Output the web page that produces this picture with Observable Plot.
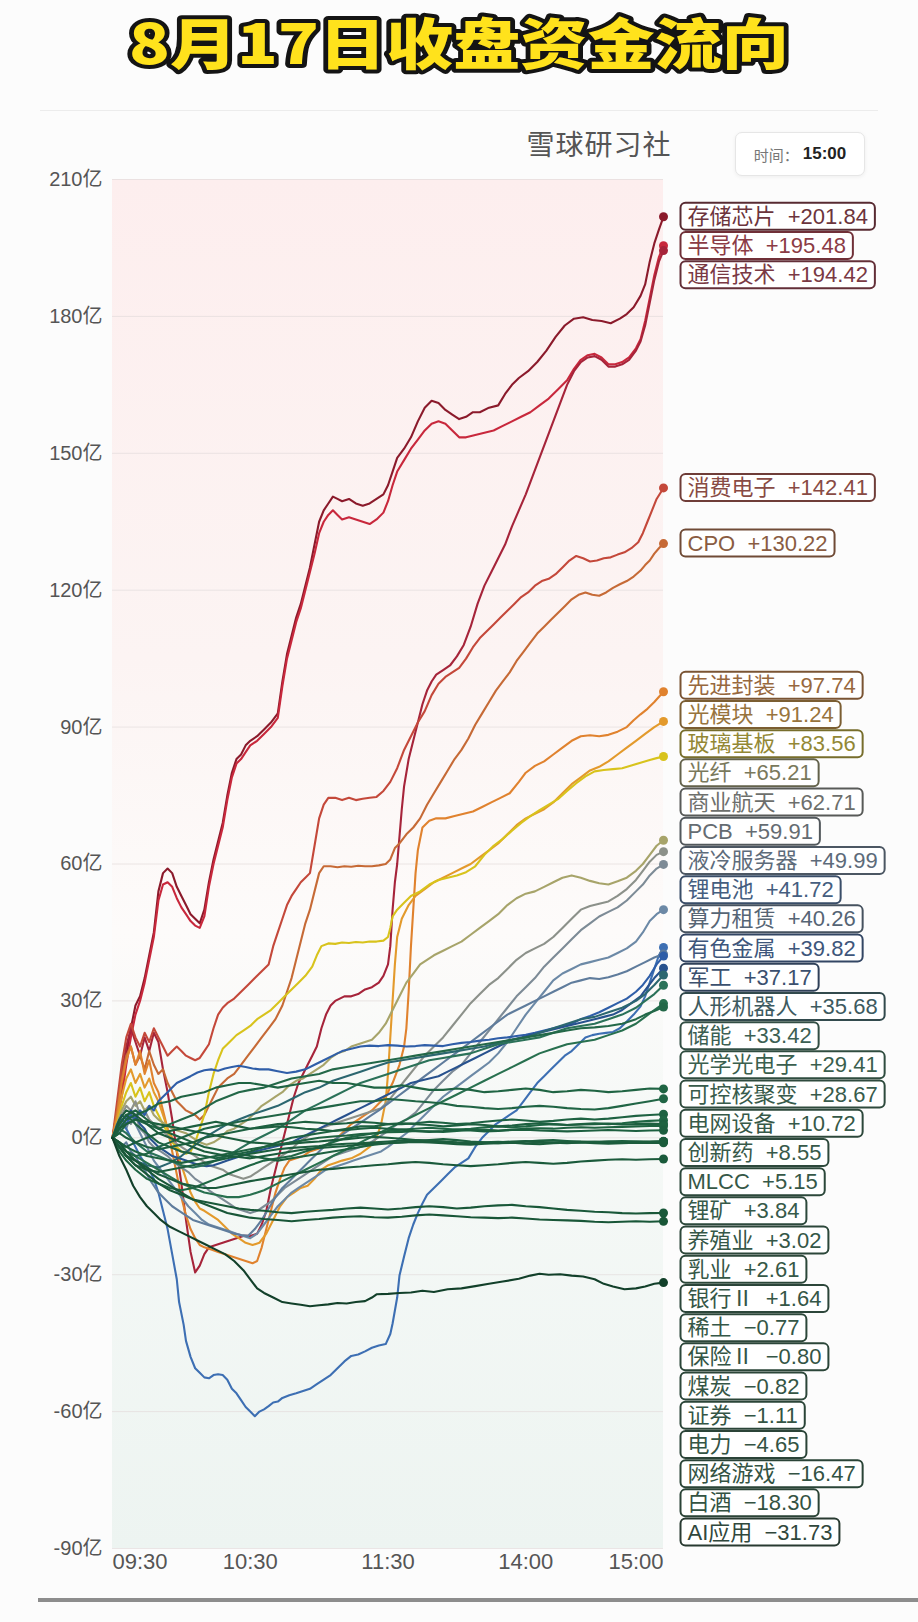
<!DOCTYPE html>
<html>
<head>
<meta charset="utf-8">
<script src="https://cdn.jsdelivr.net/npm/d3@7"></script>
<script src="https://cdn.jsdelivr.net/npm/@observablehq/plot@0.6"></script>
<style>
  html,body{margin:0;padding:0;}
  body{width:918px;height:1622px;position:relative;overflow:hidden;background:#fcfcfc;font-family:'Liberation Sans','Noto Sans CJK SC',sans-serif;}
  #title{position:absolute;left:0;top:0;}
  #sep{position:absolute;left:40px;top:110px;width:838px;height:1px;background:#ececec;}
  #brand{position:absolute;left:0;width:918px;top:123px;text-align:center;padding-left:280px;box-sizing:border-box;font:28px 'Noto Sans CJK SC',sans-serif;color:#555;letter-spacing:1px;}
  #timebox{position:absolute;left:735px;top:132px;width:128px;height:42px;border:1px solid #e6e6e6;border-radius:7px;background:#fff;box-shadow:0 1px 4px rgba(0,0,0,0.06);display:flex;align-items:center;justify-content:center;gap:4px;}
  #timebox .k{font:15px 'Noto Sans CJK SC',sans-serif;color:#777;}
  #timebox .v{font:bold 17px 'Liberation Sans',sans-serif;color:#222;}
  #chart{position:absolute;left:0;top:150px;}
  #bar{position:absolute;left:38px;top:1598px;width:880px;height:4px;background:#8d8d8d;}
</style>
</head>
<body>
<svg id="title" width="918" height="90">
  <text x="459" y="64" text-anchor="middle" textLength="660" lengthAdjust="spacingAndGlyphs"
        font-family="'Noto Sans CJK SC',sans-serif" font-size="55" font-weight="900"
        fill="#ffe21c" stroke="#141414" stroke-width="8" stroke-linejoin="round" paint-order="stroke">8月17日收盘资金流向</text>
</svg>
<div id="sep"></div>
<div id="brand">雪球研习社</div>
<div id="timebox"><span class="k">时间：</span><span class="v">15:00</span></div>
<div id="chart"></div>
<div id="bar"></div>
<script>
// ---------- data ----------
const names = ["存储芯片","半导体","通信技术","消费电子","CPO","先进封装","光模块","玻璃基板","光纤","商业航天","PCB","液冷服务器","锂电池","算力租赁","有色金属","军工","人形机器人","储能","光学光电子","可控核聚变","电网设备","创新药","MLCC","锂矿","养殖业","乳业","银行Ⅱ","稀土","保险Ⅱ","煤炭","证券","电力","网络游戏","白酒","AI应用"];
const finals = [201.84,195.48,194.42,142.41,130.22,97.74,91.24,83.56,65.21,62.71,59.91,49.99,41.72,40.26,39.82,37.17,35.68,33.42,29.41,28.67,10.72,8.55,5.15,3.84,3.02,2.61,1.64,-0.77,-0.80,-0.82,-1.11,-4.65,-16.47,-18.30,-31.73];
const colors = ["#8b1a2b","#c8283c","#a6243a","#c4483a","#c66a36","#e0822e","#e39a2c","#d8c31c","#a7a46a","#8c918a","#7d8b96","#6c89a6","#3d6fb3","#5f7c9c","#2f5ea8","#28528e","#2c6770","#2b7259","#28704f","#236848","#1f6443","#206545","#1e6242","#1f6644","#1d6040","#1e6341","#1c5f3f","#1d6140","#1b5d3d","#1c5e3e","#1b5c3c","#1a5a3b","#195839","#185637","#12402a"];
const tickMins = [0,60,120,180,240];
const tickLabels = ["09:30","10:30","11:30","14:00","15:00"];
const yTicks = [-90,-60,-30,0,30,60,90,120,150,180,210];

// series paths: [trading minute since 09:30, net inflow (亿)]
const s01 = [[0,0],[2,5],[4,10],[6,18],[8,24],[10,29],[12,31],[14,35],[16,40],[18,45],[20,54],[22,58],[24,59],[26,58],[28,55],[30,53],[32,51],[34,49],[36,48],[38,47],[40,50],[42,56],[44,61],[46,65],[48,69],[50,75],[52,80],[54,83],[56,84],[58,86],[60,87],[63,88],[66,89.5],[69,91],[72,93],[74,100],[76,106],[78,110],[80,114],[82,117],[84,121],[86,125],[88,130],[90,135],[92,137.5],[94,139],[96,140.5],[98,140],[100,139.5],[103,140],[106,139],[109,138.5],[112,139],[115,140],[118,141],[120,143],[122,146],[124,149],[127,151],[130,153.5],[133,157],[136,160],[139,161.5],[142,161],[145,159.5],[148,158.5],[151,157.5],[154,158],[157,159],[160,159],[164,160],[168,160.5],[171,163],[174,165],[177,166.5],[181,168],[185,170],[189,172.5],[193,175.5],[197,178],[201,179.5],[205,179.8],[209,179.2],[213,179],[217,178.5],[221,179.5],[224,180.5],[227,182],[230,184.5],[232,187],[234,192],[236,196],[238,199],[240,201.84]];
const s02 = [[0,0],[2,4],[4,9],[6,16],[8,22],[10,27],[12,30],[14,34],[16,39],[18,44],[20,52],[22,55.5],[24,56],[26,55],[28,52.5],[30,50.5],[32,49],[34,47.5],[36,46.5],[38,46],[40,48.5],[42,55],[44,60],[46,64],[48,68],[50,74],[52,79],[54,82],[56,83],[58,84.5],[60,86],[63,87],[66,88.5],[69,90],[72,92],[74,99],[76,105],[78,109],[80,113],[82,116],[84,120],[86,124],[88,128],[90,132.5],[92,135],[94,136.5],[96,137.5],[98,136.5],[100,135.5],[103,136],[106,135.5],[109,135],[112,134.5],[115,135.5],[118,137],[120,139.5],[122,143],[124,146],[127,148.5],[130,151],[133,153],[136,155],[139,156.5],[142,157],[145,156.5],[148,155],[151,153.5],[154,153.5],[158,154],[162,154.5],[166,155],[170,156],[174,157],[178,158],[182,159],[186,160.5],[190,162],[194,164],[198,166],[201,168.5],[204,170.5],[207,171.5],[210,171.8],[213,171],[216,169.5],[219,169.5],[222,170],[225,171],[228,173],[230,175],[232,179],[234,184],[236,189],[238,193],[240,195.48]];
const s03 = [[0,0],[2,6],[4,14],[6,20],[8,24],[10,21],[12,18],[14,22],[16,19],[18,23],[20,21],[22,15],[24,10],[26,4],[28,-3],[30,-10],[32,-18],[34,-25],[36,-29.5],[38,-28],[40,-25.5],[42,-24],[45,-23.5],[48,-23],[51,-22.5],[54,-22],[57,-21.5],[60,-21.5],[63,-21],[65,-19],[67,-16],[69,-11],[71,-7],[73,-3],[75,1],[77,5],[79,9],[81,12],[83,14],[85,16],[87,18],[89,20],[91,24],[93,27],[95,29],[97,30],[99,30.5],[101,31],[104,31],[107,31.5],[110,32.5],[113,33],[116,34],[118,35.5],[120,38],[121,42],[122,50],[123,56],[124,60],[125,66],[126,72],[127,77],[129,83],[131,87],[133,91],[135,95],[137,98],[139,100],[141,101.5],[144,102.5],[147,103.5],[150,105.5],[153,108],[156,112],[159,117],[162,121],[165,124],[168,127],[171,130],[174,134],[177,137.5],[180,141],[183,145],[186,149],[189,153],[192,157],[195,161],[198,165],[201,168],[204,170],[207,171],[210,171.3],[213,170.5],[216,169],[219,169],[222,169.5],[225,170.5],[228,172.5],[230,174.5],[232,178],[234,183],[236,188],[238,192],[240,194.42]];
const s04 = [[0,0],[2,8],[4,16],[6,22],[8,25],[10,22],[12,20],[14,23],[16,21],[18,24],[20,22],[22,20],[24,18],[26,19],[28,20],[30,19],[32,18],[34,17.5],[36,17],[38,17.5],[40,19],[42,20.5],[44,24],[46,27],[48,28.5],[50,29.5],[53,30.5],[56,32],[59,33.5],[62,35],[65,36.5],[68,38],[70,42],[72,45],[74,48],[76,51],[78,53],[80,54.5],[82,56],[84,57],[86,58],[88,64],[90,70],[92,73],[94,74.5],[97,74.5],[100,74],[103,74.5],[106,74],[109,74.3],[112,74.5],[115,74.7],[118,76],[121,78],[124,81],[127,85],[130,88],[133,91],[136,93.5],[139,97],[142,99.5],[145,101],[148,102],[151,103],[154,105],[157,107.5],[160,109.5],[163,111],[166,112.5],[169,114],[172,115.5],[175,117],[178,118.5],[181,119.5],[184,121],[187,122],[190,122.5],[193,123.5],[196,125],[199,126.5],[202,127.5],[205,127],[208,126.3],[211,126.5],[214,127],[217,127.2],[220,127.8],[223,128.3],[226,129.2],[229,130.5],[231,132.5],[233,135],[235,137.5],[237,140],[240,142.41]];
const s05 = [[0,0],[2,6],[4,13],[6,18],[8,20],[10,16],[12,18],[14,15],[16,19],[18,16],[20,14],[22,15],[24,12],[26,10],[28,8],[30,7],[32,6],[34,5.5],[36,5],[38,4],[40,5],[42,7],[44,9],[46,11],[48,12],[50,13],[53,14],[56,16],[59,18],[62,20],[65,22],[68,24],[71,26],[74,29],[76,32],[78,35],[80,39],[82,43],[84,47],[86,50],[88,54],[90,58],[92,59.5],[95,59.5],[98,59.3],[101,59.5],[104,59.4],[107,59.6],[110,59.5],[113,59.5],[116,59.7],[119,60],[121,61],[123,63.5],[125,64.5],[128,66.5],[131,68],[134,70],[137,73],[140,75.5],[143,78],[146,80.5],[149,83],[152,85],[155,87.5],[158,90.5],[161,93],[164,95.5],[167,98],[170,100],[173,102],[176,104.5],[179,106.5],[182,108.5],[185,110.5],[188,112],[191,113.5],[194,115],[197,116.5],[200,118],[203,119],[206,119.5],[209,119],[212,118.8],[215,119.5],[218,120.5],[221,121.3],[224,122],[227,123],[230,124.3],[232,125.5],[234,126.5],[236,128],[238,129.2],[240,130.22]];
const s06 = [[0,0],[2,5],[4,12],[6,17],[8,20],[10,16],[12,19],[14,14],[16,17],[18,12],[20,10],[22,6],[24,2],[26,-3],[28,-8],[30,-13],[32,-17],[34,-20],[36,-22],[38,-23.5],[40,-24],[43,-24.5],[46,-25],[49,-25.5],[52,-26],[55,-26.5],[58,-27],[61,-27.5],[63,-27],[65,-24],[67,-20],[69,-16],[71,-12],[73,-9],[75,-6.5],[77,-5],[80,-4.5],[83,-4],[86,-3],[89,-2.5],[92,-2],[95,-1],[98,0],[101,1.5],[104,3],[107,4],[110,5],[113,6],[116,7.5],[119,9],[122,12],[125,16],[127,20],[128,24],[129,32],[130,42],[131,50],[132,58],[133,63],[135,68],[138,69.5],[141,70],[145,70],[149,70.5],[153,71],[157,71.5],[161,72.5],[165,73.5],[169,74.5],[173,75.5],[177,78],[180,80],[184,81.5],[188,82.5],[192,84],[196,85.5],[200,87],[204,88],[208,88.2],[212,88],[216,88.3],[220,89],[224,90],[227,91.5],[230,92.8],[233,94],[236,95.5],[240,97.74]];
const s07 = [[0,0],[2,4],[4,9],[6,13],[8,15],[10,12],[12,14],[14,11],[16,13],[18,10],[20,8],[22,5],[24,2],[26,0],[28,-3],[30,-6],[32,-9],[34,-12],[36,-14],[38,-15.5],[40,-16],[43,-17],[46,-18],[49,-19.5],[52,-21],[55,-22],[58,-23],[61,-23.5],[64,-23],[67,-21],[70,-18],[73,-15],[76,-13],[79,-12],[82,-11],[85,-10.5],[88,-9],[91,-7],[94,-6],[97,-5.5],[100,-5],[104,-4.5],[108,-3.5],[112,-2],[115,0],[117,3],[119,8],[120,14],[121,22],[122,30],[123,38],[124,44],[126,48],[129,51],[132,53],[136,54.5],[140,56],[144,57],[148,58],[152,59],[156,60],[160,61.5],[164,63],[168,64.5],[172,66.5],[176,68.5],[180,70],[184,71],[188,72],[192,73.5],[196,75.5],[200,77.5],[204,79],[208,80.5],[212,81.3],[216,82.5],[220,84],[224,85.5],[228,87],[232,88.5],[236,90],[240,91.24]];
const s08 = [[0,0],[2,3],[4,7],[6,10],[8,12],[10,9],[12,11],[14,8],[16,10],[18,7],[20,5],[22,3],[24,1],[26,-1],[28,-2],[30,-3],[32,-3.5],[34,-3],[36,-1],[38,2],[40,5],[42,10],[44,14],[46,17],[48,19.5],[51,21],[54,22.5],[57,23.5],[60,24.5],[63,26],[66,27],[69,28],[72,29.5],[75,31],[78,32.5],[81,34],[84,35.5],[87,37.5],[89,40],[91,42],[94,42.6],[97,42.5],[100,42.8],[103,42.7],[106,42.9],[109,42.8],[112,43],[115,43],[118,43.2],[120,44],[121,46],[122,48.5],[124,50],[127,51.5],[130,53],[134,54],[138,55.5],[142,56.5],[146,57],[150,57.5],[154,58.2],[158,59.5],[162,62],[166,64],[170,65.5],[174,67.3],[178,69],[182,70.5],[186,71.8],[190,73],[194,74.2],[198,76],[202,77.7],[206,79.2],[210,80.3],[214,80.6],[218,80.8],[222,81],[226,81.6],[230,82.2],[234,82.8],[237,83.2],[240,83.56]];
const s09 = [[0,0],[2,3],[4,6],[6,8],[8,9],[10,7],[12,8],[14,6],[16,7],[18,5],[20,4],[23,3],[26,2],[29,1.5],[32,1],[35,0],[38,-1],[41,-1.5],[44,-1],[47,0],[50,1.5],[53,2],[56,3],[59,4],[62,5.5],[65,7],[68,8],[71,9],[74,10],[77,11.5],[80,12.5],[83,13],[86,14],[89,15],[92,16],[95,17.5],[98,18.5],[101,19],[104,20],[107,20.5],[110,21],[113,21.5],[116,23],[119,25],[122,28],[125,31],[128,34],[131,36],[134,38],[137,39],[140,40],[144,41],[148,42],[152,43],[156,44.5],[160,46],[164,47.5],[168,49],[172,51],[176,52.5],[180,53.5],[184,54],[188,55],[192,56],[196,57],[200,57.5],[204,57],[208,56.3],[212,55.8],[216,55.5],[220,56.2],[224,57],[228,58.5],[231,60],[234,62],[237,64],[240,65.21]];
const s10 = [[0,0],[2,2],[4,5],[6,7],[8,6],[10,8],[12,5],[14,6],[16,4],[18,3],[21,2],[24,0.5],[27,-1],[30,-2],[33,-3],[36,-4],[39,-5],[42,-6],[45,-6.5],[48,-7],[51,-8],[54,-8.5],[57,-9],[60,-8.5],[63,-7.5],[66,-6.5],[69,-5.5],[72,-4.5],[75,-3.5],[78,-2.5],[81,-1],[84,0],[87,1],[90,2],[93,2.5],[96,3],[99,3.5],[102,4],[105,4.5],[108,5],[111,5.5],[114,6],[117,6.5],[120,8],[124,10.5],[128,13],[132,15.5],[136,18],[140,20],[144,22],[148,24.5],[152,27],[156,29.5],[160,31.5],[164,33.5],[168,35],[172,37],[176,39],[180,40.5],[184,41.5],[188,42.5],[192,44],[196,46],[200,48],[204,50],[208,50.8],[212,51.3],[216,51.8],[220,53],[224,54.5],[228,56.5],[231,58.5],[234,60.5],[237,62],[240,62.71]];
const s11 = [[0,0],[2,1],[4,3],[6,4],[8,3],[10,5],[12,2],[14,1],[16,-1],[18,-2],[21,-3],[24,-4],[27,-5.5],[30,-6.5],[33,-7.5],[36,-9],[39,-10],[42,-11.5],[45,-12.5],[48,-13.5],[51,-14.5],[54,-15.5],[57,-16],[60,-16.5],[63,-16],[66,-15],[69,-14],[72,-12.5],[75,-11],[78,-10],[81,-9],[84,-8],[87,-7],[90,-6],[93,-5],[96,-4],[99,-3.5],[102,-3],[105,-2.5],[108,-2],[111,-1.5],[114,-0.5],[117,0.5],[120,1.5],[124,3],[128,4],[132,5.5],[136,8],[140,10.5],[144,12.5],[148,14.5],[152,16],[156,18.5],[160,21],[164,23.5],[168,26],[172,28.5],[176,31],[180,33],[184,35],[188,37.5],[192,39.5],[196,41.5],[200,43.5],[204,45.5],[208,47],[212,48.5],[216,49.5],[220,50.5],[224,52],[228,54],[231,55.5],[234,57.5],[237,59],[240,59.91]];
const s12 = [[0,0],[2,2],[4,4],[6,2],[8,5],[10,3],[12,1],[14,-1],[16,-3],[18,-5],[21,-7],[24,-9],[27,-11],[30,-13],[33,-15],[36,-16.5],[39,-18],[42,-19],[45,-19.5],[48,-20],[51,-20.5],[54,-21],[57,-21.5],[60,-22],[63,-21],[66,-19],[69,-17],[72,-15],[75,-13.5],[78,-12],[81,-11],[84,-10],[87,-9],[90,-8],[93,-7],[96,-6.5],[99,-6],[102,-5.5],[105,-5],[108,-4.5],[111,-4],[114,-3.5],[117,-3],[120,-2],[124,-0.5],[128,1],[132,3],[136,5],[140,7],[144,9],[148,10.5],[152,12],[156,13.5],[160,15],[164,16.5],[168,18.5],[172,21],[176,24],[180,27],[184,29.5],[188,32],[192,34.5],[196,36],[200,37],[204,38],[208,38.5],[212,39],[216,39.5],[220,40.5],[224,41.5],[228,43],[231,45],[234,47.5],[237,49],[240,49.99]];
const s13 = [[0,0],[2,1],[4,3],[6,2],[8,0],[10,-2],[12,-4],[14,-5.5],[16,-7],[18,-9],[20,-12],[22,-16],[24,-20],[26,-25.5],[28,-31],[29,-36],[31,-41],[32,-44.5],[34,-48],[36,-50.5],[38,-51.5],[40,-52.5],[42,-52.7],[44,-52],[46,-51.8],[48,-52],[50,-53],[52,-55],[54,-56],[56,-57.5],[58,-59],[60,-60],[62,-61],[64,-60],[66,-59.5],[68,-58.8],[70,-58],[72,-57.8],[74,-57],[77,-56.4],[80,-56],[83,-55.5],[86,-55],[89,-54],[92,-53],[95,-52],[98,-50.5],[101,-49],[104,-47.8],[107,-47.5],[110,-46.8],[113,-46],[116,-45.5],[119,-45.2],[121,-43],[122,-40.7],[124,-35],[125,-30.2],[127,-26],[129,-22],[131,-19],[133,-16.5],[135,-14.4],[137,-12.5],[140,-11],[143,-9.5],[146,-8],[149,-6.5],[152,-5.5],[155,-4.5],[158,-2],[161,0],[164,1.5],[167,3],[170,4],[173,5],[176,6],[179,8],[182,10],[185,12],[188,13.5],[191,15],[194,16.5],[197,18],[200,19],[203,20.5],[206,22],[209,22.5],[212,22.8],[215,23],[218,23.2],[221,24],[224,25.5],[227,27],[230,28.8],[232,31],[234,34],[236,37],[238,40],[240,41.72]];
const s14 = [[0,0],[2,-1],[4,-2],[6,-1],[8,-3],[10,-4],[12,-6],[14,-7],[16,-9],[18,-10.5],[20,-12],[23,-13.5],[26,-15],[29,-16],[32,-17],[35,-18],[38,-18.5],[41,-19],[44,-19.5],[47,-20],[50,-20.5],[53,-21],[56,-21.3],[59,-21.5],[62,-20],[65,-18],[68,-15.5],[71,-13],[74,-11],[77,-9.5],[80,-8],[83,-6.5],[86,-5],[89,-3.5],[92,-2],[95,-1],[98,0],[101,1],[104,2],[107,3],[110,4],[113,5],[116,6],[120,7.5],[124,9],[128,10.5],[132,12],[136,13.5],[140,15],[144,16.5],[148,18],[152,19.5],[156,21],[160,22.5],[164,24],[168,25.5],[172,27],[176,28],[180,29],[184,30],[188,31],[192,32],[196,33],[200,34],[204,34.5],[208,35],[212,34.8],[216,35.2],[220,35.8],[224,36.5],[228,37.5],[232,38.5],[236,39.5],[240,40.26]];
const s15 = [[0,0],[2,2],[4,4],[6,3],[8,5],[10,4],[12,6],[14,5],[16,7],[18,6],[20,8],[22,9],[24,10],[26,11],[28,12],[30,12.5],[32,13],[34,13.5],[37,14.3],[40,14.8],[43,15],[46,14.7],[49,15.2],[52,15.5],[55,15.8],[58,15.5],[61,15.2],[64,15],[68,15],[72,14.6],[76,14.2],[80,14.5],[84,15],[88,16],[92,17],[96,18],[100,19],[104,19.5],[108,20],[112,20.2],[116,20.1],[120,20.3],[124,20.2],[128,20],[132,20.1],[136,20.3],[140,20.2],[144,20.1],[148,20.5],[152,20.8],[156,21],[160,21.3],[164,21.5],[168,21.8],[172,22],[176,22.3],[180,22.6],[184,23],[188,23.5],[192,24],[196,24.5],[200,25],[204,26],[208,26.7],[212,27.5],[216,28.5],[220,29.5],[224,30.5],[228,32],[231,33.5],[234,35.5],[237,38],[240,39.82]];
const s16 = [[0,0],[2,3],[4,5],[6,4],[8,6],[10,5],[12,3],[14,2],[16,0],[18,-1],[20,-2],[23,-3],[26,-4],[29,-4.5],[32,-5],[35,-5.5],[38,-6],[41,-6.2],[44,-6],[47,-5.5],[50,-5],[53,-4.5],[56,-4],[59,-3.5],[62,-3],[66,-2.5],[70,-2],[74,-1.5],[78,-1],[82,0],[86,1],[90,2],[94,3],[98,4],[102,5],[106,6],[110,7],[114,8],[118,9],[122,10],[126,11],[130,12],[134,12.5],[138,13],[142,13.5],[146,14.5],[150,15.5],[154,16.5],[158,17.5],[162,18.5],[166,19.5],[170,20.5],[174,21.5],[178,22],[182,22.5],[186,23],[190,23.5],[194,24],[198,24.5],[202,25],[206,25.5],[210,26],[214,26.5],[218,27],[222,28],[226,29.5],[230,31],[233,33],[236,35],[240,37.17]];
const s17 = [[0,0],[3,-2],[6,-4],[10,-5],[15,-6],[20,-6.5],[25,-5.5],[30,-4],[35,-2],[40,0],[45,1.5],[50,3],[55,4],[60,5],[66,6],[72,7],[78,8.5],[84,10],[90,11],[96,12.5],[102,13.5],[108,14.5],[114,15.5],[120,16.5],[126,17],[132,17.5],[138,18],[144,18.5],[150,19],[156,19.5],[162,20],[168,20.8],[174,21.5],[180,22],[186,23],[192,24],[198,25],[204,26],[210,26.5],[216,27.5],[222,28.5],[228,30],[232,31.5],[236,33.5],[240,35.68]];
const s18 = [[0,0],[3,2],[6,1],[10,-1],[15,-3],[20,-4],[25,-5],[30,-6],[35,-6.5],[40,-6],[45,-5],[50,-4],[55,-2.5],[60,-1],[66,0.5],[72,2],[78,4],[84,6],[90,7.5],[96,9],[102,10.5],[108,12],[114,13],[120,14],[126,15],[132,16],[138,17],[144,17.5],[150,18],[156,18.5],[162,19.5],[168,20.5],[174,21],[180,21.5],[186,22],[192,23],[198,24],[204,24.5],[210,25],[216,26],[222,27],[228,28.5],[232,30],[236,31.5],[240,33.42]];
const s19 = [[0,0],[3,-1],[6,-3],[10,-4],[15,-5.5],[20,-7],[25,-8.5],[30,-10],[35,-11],[40,-12],[45,-12.5],[50,-13],[55,-13],[60,-12.5],[66,-11.5],[72,-10],[78,-8.5],[84,-7],[90,-5.5],[96,-4],[102,-2.5],[108,-1],[114,0.5],[120,2],[126,3.5],[132,5],[138,6.5],[144,8],[150,9.5],[156,11],[162,12.5],[168,14],[174,15.5],[180,17],[186,18.5],[192,19.5],[198,20.5],[204,21],[210,21.5],[216,22.5],[222,23.5],[228,25],[232,26.5],[236,28],[240,29.41]];
const s20 = [[0,0],[3,1],[6,3],[10,4],[15,3],[20,2],[25,3],[30,4],[35,5],[40,6.5],[45,8],[50,9],[55,10],[60,10.5],[66,11],[72,12],[78,13],[84,13.5],[90,14],[96,15],[102,15.5],[108,16],[114,16.5],[120,17],[126,17.5],[132,18],[138,18.5],[144,19],[150,19.5],[156,20],[162,20.5],[168,21],[174,21.5],[180,22],[186,22.5],[192,23],[198,23.5],[204,24],[210,24.2],[216,24.5],[222,25],[228,26],[232,27],[236,27.8],[240,28.67]];
const s21 = [[0,0],[3,2],[6,4],[10,5],[15,6],[20,7.5],[25,8],[30,9],[35,9.5],[40,10],[45,11],[50,11.5],[55,12],[60,12],[66,11.5],[72,11],[78,11.5],[84,12],[90,12.5],[96,12],[102,12],[108,11.5],[114,11],[120,11],[126,11.5],[132,11],[138,10.5],[144,10.5],[150,10.8],[156,10.5],[162,10],[168,10.2],[174,10.5],[180,10.8],[186,10.5],[192,10],[198,10.2],[204,10.5],[210,10.3],[216,10],[222,10.2],[228,10.5],[234,10.8],[240,10.72]];
const s22 = [[0,0],[3,-2],[6,-3],[10,-4],[15,-3.5],[20,-2],[25,-1],[30,0],[35,1],[40,2],[45,2.5],[50,3],[55,3.5],[60,4],[66,4.5],[72,5],[78,5.5],[84,6],[90,6.5],[96,7],[102,7.5],[108,8],[114,8],[120,8.5],[126,8.3],[132,8],[138,7.8],[144,7.5],[150,7],[156,6.8],[162,6.5],[168,6.3],[174,6.5],[180,6.8],[186,7],[192,6.8],[198,6.5],[204,6.3],[210,6.2],[216,6.5],[222,7],[228,7.5],[234,8],[240,8.55]];
const s23 = [[0,0],[3,3],[6,5],[10,3],[15,1],[20,-1],[25,-2],[30,-3],[35,-3.5],[40,-4],[45,-4.5],[50,-4],[55,-3.5],[60,-3],[66,-2],[72,-1],[78,0],[84,0.5],[90,1],[96,1.5],[102,2],[108,2.5],[114,2.5],[120,3],[126,3],[132,3.2],[138,3.5],[144,3.3],[150,3],[156,3.2],[162,3.5],[168,3.8],[174,4],[180,3.8],[186,3.5],[192,3.7],[198,4],[204,4.2],[210,4],[216,4.2],[222,4.5],[228,4.8],[234,5],[240,5.15]];
const s24 = [[0,0],[3,-3],[6,-5],[10,-7],[15,-9],[20,-10],[25,-11],[30,-11.5],[35,-11],[40,-10],[45,-9],[50,-8],[55,-7],[60,-6],[66,-5],[72,-4.5],[78,-4],[84,-3],[90,-2],[96,-1],[102,0],[108,0.5],[114,1],[120,1.5],[126,1.8],[132,2],[138,2.2],[144,2],[150,1.8],[156,2],[162,2.3],[168,2.5],[174,2.3],[180,2.5],[186,2.8],[192,3],[198,2.8],[204,3],[210,3.2],[216,3],[222,3.2],[228,3.5],[234,3.7],[240,3.84]];
const s25 = [[0,0],[3,1],[6,0],[10,-1],[15,-2],[20,-2.5],[25,-2],[30,-1.5],[35,-1],[40,0],[45,0.5],[50,1],[55,1.5],[60,2],[66,2.5],[72,3],[78,3.2],[84,3.5],[90,3.3],[96,3],[102,3.2],[108,3.5],[114,3.3],[120,3],[126,3.2],[132,3],[138,2.8],[144,2.5],[150,2.7],[156,3],[162,2.8],[168,2.5],[174,2.7],[180,3],[186,3.2],[192,3],[198,2.8],[204,2.9],[210,3],[216,3.1],[222,2.9],[228,3],[234,3.1],[240,3.02]];
const s26 = [[0,0],[3,-1],[6,-2],[10,-3],[15,-4],[20,-4.5],[25,-5],[30,-5.5],[35,-5],[40,-4.5],[45,-4],[50,-3.5],[55,-3],[60,-2.5],[66,-2],[72,-1.5],[78,-1],[84,-0.5],[90,0],[96,0.3],[102,0.5],[108,0.8],[114,1],[120,1.2],[126,1.3],[132,1.5],[138,1.4],[144,1.3],[150,1.5],[156,1.7],[162,1.8],[168,1.6],[174,1.8],[180,2],[186,2.1],[192,2],[198,2.2],[204,2.3],[210,2.2],[216,2.3],[222,2.4],[228,2.5],[234,2.6],[240,2.61]];
const s27 = [[0,0],[3,2],[6,3],[10,4],[15,3.5],[20,3],[25,2.5],[30,2],[35,2.5],[40,3],[45,3.5],[50,3],[55,2.5],[60,2],[66,2.2],[72,2.5],[78,2.3],[84,2],[90,1.8],[96,1.5],[102,1.7],[108,2],[114,2.2],[120,2],[126,1.8],[132,1.5],[138,1.3],[144,1.5],[150,1.8],[156,1.6],[162,1.4],[168,1.5],[174,1.7],[180,1.8],[186,1.6],[192,1.5],[198,1.4],[204,1.5],[210,1.6],[216,1.7],[222,1.6],[228,1.5],[234,1.6],[240,1.64]];
const s28 = [[0,0],[3,3],[6,5],[10,6],[15,4],[20,2],[25,1],[30,0],[35,-1],[40,-2],[45,-2.5],[50,-3],[55,-3.5],[60,-4],[66,-4.5],[72,-5],[78,-4.5],[84,-4],[90,-3.5],[96,-3],[102,-2.5],[108,-2],[114,-1.5],[120,-1.2],[126,-1],[132,-0.8],[138,-0.5],[144,-0.3],[150,-0.5],[156,-0.8],[162,-1],[168,-1.2],[174,-1],[180,-0.8],[186,-0.6],[192,-0.5],[198,-0.7],[204,-0.9],[210,-1],[216,-0.8],[222,-0.7],[228,-0.8],[234,-0.9],[240,-0.77]];
const s29 = [[0,0],[3,-1],[6,-2],[10,-1],[15,0],[20,1],[25,1.5],[30,2],[35,1.5],[40,1],[45,0.5],[50,0],[55,-0.5],[60,-1],[66,-1.2],[72,-1.5],[78,-1.3],[84,-1],[90,-0.8],[96,-0.5],[102,-0.3],[108,0],[114,0.2],[120,0],[126,-0.2],[132,-0.5],[138,-0.7],[144,-0.9],[150,-1.1],[156,-1.3],[162,-1.2],[168,-1],[174,-0.8],[180,-0.7],[186,-0.9],[192,-1.1],[198,-1.2],[204,-1],[210,-0.9],[216,-0.8],[222,-0.9],[228,-1],[234,-0.9],[240,-0.8]];
const s30 = [[0,0],[3,-2],[6,-4],[10,-6],[15,-7],[20,-7.5],[25,-7],[30,-6.5],[35,-6],[40,-5.5],[45,-5],[50,-4.5],[55,-4],[60,-3.5],[66,-3],[72,-2.5],[78,-2.2],[84,-2],[90,-1.8],[96,-1.5],[102,-1.3],[108,-1.2],[114,-1],[120,-0.8],[126,-0.6],[132,-0.5],[138,-0.6],[144,-0.8],[150,-1],[156,-1.1],[162,-1],[168,-0.9],[174,-1],[180,-1.2],[186,-1.1],[192,-1],[198,-0.9],[204,-0.8],[210,-0.9],[216,-1],[222,-0.9],[228,-0.8],[234,-0.85],[240,-0.82]];
const s31 = [[0,0],[3,4],[6,6],[10,5],[15,3],[20,1],[25,0],[30,-1],[35,-2],[40,-3],[45,-3.5],[50,-4],[55,-4.2],[60,-4.5],[66,-4],[72,-3.5],[78,-3],[84,-2.5],[90,-2.2],[96,-2],[102,-1.8],[108,-1.5],[114,-1.3],[120,-1.2],[126,-1],[132,-0.9],[138,-1],[144,-1.2],[150,-1.4],[156,-1.5],[162,-1.3],[168,-1.2],[174,-1.1],[180,-1.3],[186,-1.4],[192,-1.2],[198,-1.1],[204,-1],[210,-1.2],[216,-1.3],[222,-1.2],[228,-1.1],[234,-1.15],[240,-1.11]];
const s32 = [[0,0],[3,-2],[6,-4],[10,-5],[15,-6.5],[20,-8],[25,-9],[30,-10],[35,-10.5],[40,-11],[45,-11],[50,-10.5],[55,-10],[60,-9.5],[66,-9],[72,-8.5],[78,-8],[84,-7.5],[90,-7],[96,-6.8],[102,-6.5],[108,-6.3],[114,-6],[120,-5.8],[126,-5.5],[132,-5.3],[138,-5.5],[144,-5.8],[150,-6],[156,-6.2],[162,-6],[168,-5.8],[174,-5.5],[180,-5.3],[186,-5.5],[192,-5.7],[198,-5.5],[204,-5.2],[210,-5],[216,-4.8],[222,-4.7],[228,-4.8],[234,-4.7],[240,-4.65]];
const s33 = [[0,0],[3,-2],[6,-4],[10,-6],[15,-8],[20,-10],[25,-11.5],[30,-12.5],[35,-13.5],[40,-14],[45,-14.5],[50,-15],[55,-15.5],[60,-15.8],[66,-16],[72,-16.3],[78,-16.5],[84,-16.2],[90,-16],[96,-15.8],[102,-15.5],[108,-15.3],[114,-15.5],[120,-15.7],[126,-15.5],[132,-15.2],[138,-15],[144,-15.2],[150,-15.5],[156,-15.3],[162,-15],[168,-14.8],[174,-14.7],[180,-15],[186,-15.2],[192,-15.5],[198,-15.8],[204,-16],[210,-16.2],[216,-16.3],[222,-16.5],[228,-16.6],[234,-16.5],[240,-16.47]];
const s34 = [[0,0],[3,-1],[6,-3],[10,-5],[15,-7],[20,-9],[25,-10.5],[30,-12],[35,-13.5],[40,-14.5],[45,-15.5],[50,-16.5],[55,-17],[60,-17.5],[66,-17.8],[72,-18],[78,-18.3],[84,-18],[90,-17.8],[96,-17.5],[102,-17.3],[108,-17.2],[114,-17.4],[120,-17.5],[126,-17.3],[132,-17],[138,-16.8],[144,-17],[150,-17.2],[156,-17.4],[162,-17.5],[168,-17.6],[174,-17.5],[180,-17.7],[186,-17.9],[192,-18],[198,-18.1],[204,-18.2],[210,-18.4],[216,-18.5],[222,-18.4],[228,-18.3],[234,-18.4],[240,-18.3]];
const s35 = [[0,0],[3,-4],[6,-7],[9,-10.5],[12,-13],[15,-15],[18,-16.5],[21,-18],[25,-19.5],[29,-20.5],[33,-21.5],[37,-22.5],[41,-23.5],[45,-24.5],[49,-25.5],[53,-27],[57,-29],[60,-31],[63,-33],[66,-34],[70,-35],[74,-36],[78,-36.3],[82,-36.6],[86,-36.9],[90,-36.7],[94,-36.5],[98,-36.2],[102,-36.3],[106,-36],[110,-35.8],[113,-35],[115,-34.3],[120,-34.2],[125,-34],[130,-33.9],[135,-33.5],[140,-33.8],[146,-33.2],[152,-33],[158,-32.5],[164,-32],[170,-31.5],[177,-30.9],[182,-30.2],[186,-29.8],[190,-30],[195,-29.9],[200,-30.2],[205,-30.4],[210,-31],[214,-32],[218,-32.6],[223,-33.2],[228,-33],[232,-32.6],[236,-32],[240,-31.73]];
const paths = [s01,s02,s03,s04,s05,s06,s07,s08,s09,s10,s11,s12,s13,s14,s15,s16,s17,s18,s19,s20,s21,s22,s23,s24,s25,s26,s27,s28,s29,s30,s31,s32,s33,s34,s35];

// ---------- layout ----------
const W = 918, H = 1440, mT = 29, mB = 42, mL = 112, mR = 255;
const pxPerUnit = (H - mT - mB) / 300;
const labelGap = 29.2 / pxPerUnit;   // vertical spacing of end labels in data units
const labelLow = -86.5;

function dodge(vals, gap, low) {
  const pos = vals.slice();
  for (let i = 1; i < pos.length; i++) pos[i] = Math.min(pos[i], pos[i - 1] - gap);
  pos[pos.length - 1] = Math.max(pos[pos.length - 1], low);
  for (let i = pos.length - 2; i >= 0; i--) pos[i] = Math.max(pos[i], pos[i + 1] + gap);
  return pos;
}
const labelY = dodge(finals, labelGap, labelLow);
const fmt = v => (v >= 0 ? "+" : "\u2212") + Math.abs(v).toFixed(2);

const rows = names.flatMap((n, i) => paths[i].map(([t, v]) => ({name: n, t, v, col: colors[i]})));
const ends = names.map((n, i) => ({name: n, v: finals[i], col: colors[i]}));
const labels = names.map((n, i) => ({
  name: n, v: finals[i], ly: labelY[i],
  text: n + "\u00a0\u00a0" + fmt(finals[i]),
  tc: d3.interpolateRgb(colors[i], "#4d4d4d")(0.5),
  bc: d3.interpolateRgb(colors[i], "#363636")(0.6)
}));

const FONT = "'Liberation Sans','Noto Sans CJK SC',sans-serif";

const chart = Plot.plot({
  width: W, height: H,
  marginTop: mT, marginBottom: mB, marginLeft: mL, marginRight: mR,
  style: {fontFamily: FONT, background: "transparent", overflow: "visible"},
  x: {domain: [0, 240], axis: null},
  y: {domain: [-90, 210], axis: null},
  color: {type: "identity"},
  marks: [
    Plot.rect([0], {x1: 0, x2: 240, y1: -90, y2: 210, fill: "url(#bgGrad)"}),
    Plot.ruleY(yTicks, {stroke: "#e2dcdc", strokeOpacity: 0.7}),
    Plot.axisY(yTicks, {tickSize: 0, tickPadding: 10, tickFormat: d => d + "亿", fontSize: 20, fill: "#555", label: null}),
    Plot.text(tickMins.slice(0, 1), {x: d => d, text: d => tickLabels[tickMins.indexOf(d)], frameAnchor: "bottom", dy: 20, textAnchor: "start", fontSize: 22, fill: "#555"}),
    Plot.text(tickMins.slice(1, 4), {x: d => d, text: d => tickLabels[tickMins.indexOf(d)], frameAnchor: "bottom", dy: 20, textAnchor: "middle", fontSize: 22, fill: "#555"}),
    Plot.text(tickMins.slice(4), {x: d => d, text: d => tickLabels[tickMins.indexOf(d)], frameAnchor: "bottom", dy: 20, textAnchor: "end", fontSize: 22, fill: "#555"}),
    Plot.line(rows, {x: "t", y: "v", z: "name", stroke: "col", strokeWidth: 2.1, strokeLinejoin: "round", curve: "linear"}),
    Plot.dot(ends, {x: 240, y: "v", fill: "col", r: 4.5, stroke: "none"}),
    Plot.text(labels, {x: 240, y: "ly", text: "text", fill: "tc", dx: 24, textAnchor: "start", fontSize: 22})
  ]
});

document.getElementById("chart").append(chart);

// gradient background definition
const NS = "http://www.w3.org/2000/svg";
const defs = document.createElementNS(NS, "defs");
defs.innerHTML = `<linearGradient id="bgGrad" x1="0" y1="0" x2="0" y2="1">
  <stop offset="0" stop-color="#fdeeee"/>
  <stop offset="0.35" stop-color="#fcf4f3"/>
  <stop offset="0.55" stop-color="#fdfbfa"/>
  <stop offset="0.68" stop-color="#f6f9f7"/>
  <stop offset="1" stop-color="#edf4f1"/>
</linearGradient>`;
chart.insertBefore(defs, chart.firstChild);

// rounded boxes behind the end labels
const textGroups = chart.querySelectorAll('g[aria-label="text"]');
const lblGroup = textGroups[textGroups.length - 1];
const lblTexts = lblGroup.querySelectorAll("text");
lblTexts.forEach((t, i) => {
  const b = t.getBBox();
  const yc = b.y + b.height / 2;
  const r = document.createElementNS(NS, "rect");
  r.setAttribute("x", b.x - 7);
  r.setAttribute("y", yc - 13.5);
  r.setAttribute("width", b.width + 14);
  r.setAttribute("height", 27);
  r.setAttribute("rx", 5);
  r.setAttribute("fill", "#ffffff");
  r.setAttribute("fill-opacity", "0.9");
  r.setAttribute("stroke", labels[i].bc);
  r.setAttribute("stroke-width", "2");
  const tr = t.getAttribute("transform");
  if (tr) r.setAttribute("transform", tr);
  lblGroup.insertBefore(r, t);
});
</script>
</body>
</html>
